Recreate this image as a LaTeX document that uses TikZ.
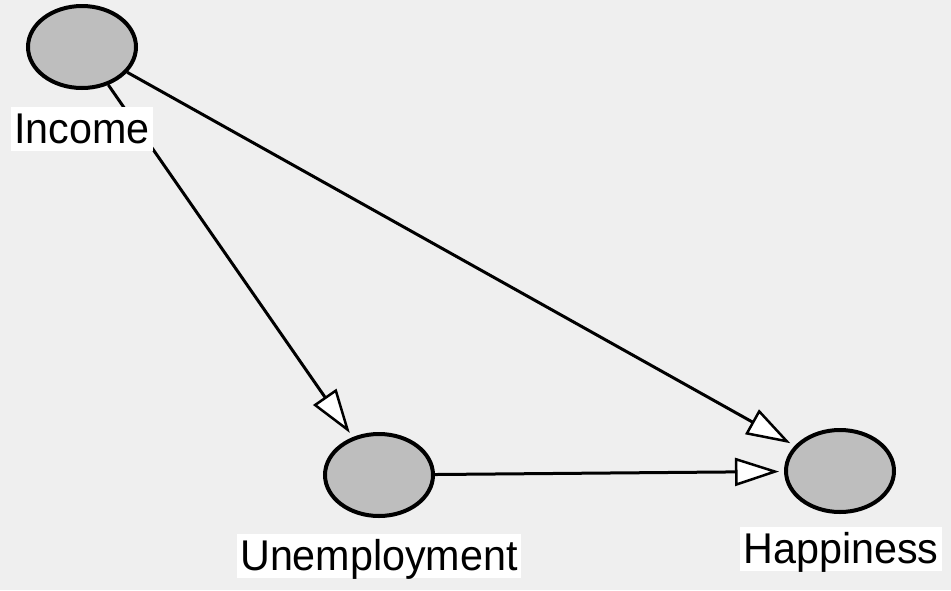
\documentclass[tikz,border=0pt]{standalone}
\usepackage{fontspec}
\setmainfont{Liberation Sans}[FakeStretch=0.96]
\usetikzlibrary{arrows.meta,shapes.geometric}
\definecolor{bg}{HTML}{EFEFEF}
\definecolor{nodefill}{HTML}{BEBEBE}
\begin{document}
\begin{tikzpicture}[x=1pt,y=-1pt,
  var/.style={ellipse,draw=black,line width=4pt,fill=nodefill,minimum width=108pt,minimum height=82pt,inner sep=0pt},
  lbl/.style={anchor=base,fill=white,inner xsep=3pt,inner ysep=0pt,font=\fontsize{43}{48}\selectfont,text height=36pt,text depth=8pt},
  edge/.style={line width=3pt,shorten >=5pt,-{Triangle[length=44pt,width=28pt,fill=white,line width=2.5pt]}}]
\fill[bg] (0,0) rectangle (951,590);
\useasboundingbox (0,0) rectangle (951,590);
\node[var] (inc) at (82,47) {};
\node[var] (une) at (379,475) {};
\node[var] (hap) at (840,471) {};
\draw[edge] (inc) -- (une);
\draw[edge] (inc) -- (hap);
\draw[edge] (une) -- (hap);
\node[lbl] (incl) at (82,143) {Income};
\node[lbl] (unel) at (379,570) {Unemployment};
\node[lbl] (hapl) at (841,563) {Happiness};
\end{tikzpicture}
\end{document}
